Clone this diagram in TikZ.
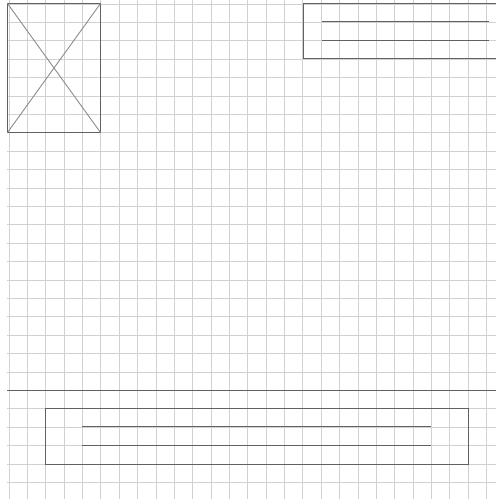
\documentclass[tikz,border=0pt]{standalone}
\begin{document}
\begin{tikzpicture}[x=1pt,y=-1pt,
  gridline/.style={draw=black!18,line width=0.9pt},
  boxline/.style={draw=black!62,line width=1pt},
  frame/.style={boxline,rectangle,inner sep=0pt,outer sep=0pt,anchor=north west}]
\useasboundingbox (0,0) rectangle (496,499);
\fill[white] (0,0) rectangle (496,499);
% grid
\foreach \k in {0,...,26}{
  \draw[gridline] ({9+18.37*\k},0) -- ({9+18.37*\k},499);
  \draw[gridline] (7,{4+18.4*\k}) -- (496,{4+18.4*\k});
}
% image placeholder
\node[frame,minimum width=93pt,minimum height=129pt] (img) at (7.5,3.5) {};
\draw[draw=black!45,line width=0.9pt] (img.north west) -- (img.south east);
\draw[draw=black!45,line width=0.9pt] (img.north east) -- (img.south west);
% top right text box
\coordinate (trA) at (497,3.5);
\coordinate (trB) at (303.5,3.5);
\coordinate (trC) at (303.5,58);
\coordinate (trD) at (497,58);
\draw[boxline] (trA) -- (trB) -- (trC) -- (trD);
\coordinate (t1a) at (321.5,21);
\coordinate (t1b) at (489,21);
\coordinate (t2a) at (321.5,40.5);
\coordinate (t2b) at (489,40.5);
\draw[boxline] (t1a) -- (t1b);
\draw[boxline] (t2a) -- (t2b);
% footer rule
\coordinate (fl) at (7,390.5);
\coordinate (fr) at (496,390.5);
\draw[boxline] (fl) -- (fr);
% footer box
\node[frame,minimum width=423pt,minimum height=56pt] (foot) at (45.5,408) {};
\coordinate (f1a) at (82,426.5);
\coordinate (f1b) at (431,426.5);
\coordinate (f2a) at (82,445);
\coordinate (f2b) at (431,445);
\draw[boxline] (f1a) -- (f1b);
\draw[boxline] (f2a) -- (f2b);
\end{tikzpicture}
\end{document}
